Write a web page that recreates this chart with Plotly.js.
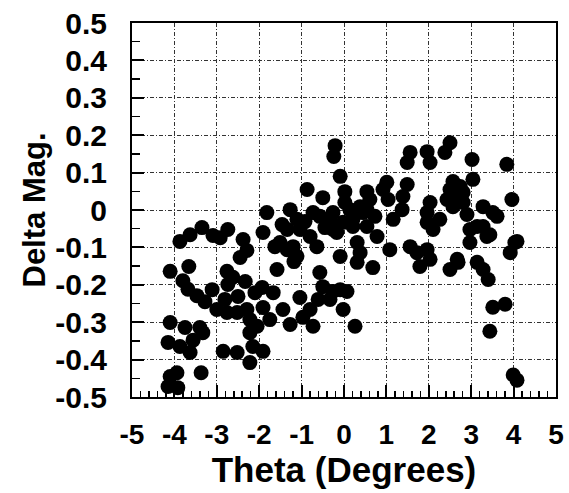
<!DOCTYPE html>
<html>
<head>
<meta charset="utf-8">
<script src="https://cdn.plot.ly/plotly-3.0.1.min.js"></script>
<style>html,body{margin:0;padding:0;background:#fff;}#chart{width:569px;height:493px;}</style>
</head>
<body>
<div id="chart"></div>
<script>
// Theta (degrees)
const theta = [
-3.87,-3.63,-3.35,-3.09,-2.92,-2.74,-2.38,-2.29,-2.45,-1.63,
-4.10,-3.66,-3.80,-3.68,-3.47,-3.28,-3.11,-2.81,-3.00,-2.76,-2.52,-2.29,-2.22,-2.05,-2.22,-1.75,-2.76,-2.62,-2.33,-2.10,-1.93,-1.67,-1.58,-1.44,-1.27,-1.04,-0.80,-0.73,-0.57,-0.50,-0.33,-0.09,-0.02,0.07,0.26,
-4.10,-3.75,-3.40,-3.33,-4.15,-3.87,-3.63,-2.85,-2.52,-2.15,-1.91,-2.22,-4.10,-3.94,-4.15,-3.92,-3.37,
-1.82,-1.27,-1.11,-1.46,-1.34,-1.11,-0.80,-0.64,-0.73,-0.33,-0.09,-0.17,-0.21,-0.24,-0.09,0.02,0.02,-0.87,-0.50,-1.34,-1.04,-0.57,-0.26,-0.26,-0.02,0.21,0.45,0.54,-1.51,-1.20,0.31,0.38,0.31,0.68,0.21,
0.54,0.61,0.54,0.38,1.01,1.04,1.49,1.56,1.49,1.96,2.03,2.50,2.38,3.02,3.84,3.04,2.57,2.74,2.50,2.43,2.67,2.57,2.03,1.96,1.96,3.96,3.28,3.61,1.37,1.16,2.10,2.97,3.28,3.44,2.97,4.03,3.92,0.78,1.08,1.56,1.72,1.96,2.03,2.67,3.14,0.92,1.39,2.81,1.79,2.50,2.69,3.28,3.40,3.14,3.37,3.51,4.08,
3.51,3.80,3.44,3.99,4.08,-0.26,
0.14,-0.45,-0.92,2.81,2.90,2.26,0.73,-1.91,-1.18,-2.74,-2.50,-1.91,-0.97,-0.61,-3.56
];
// Delta magnitude
const deltaMag = [
-0.084,-0.066,-0.047,-0.068,-0.074,-0.052,-0.079,-0.108,-0.127,-0.098,
-0.164,-0.151,-0.189,-0.212,-0.229,-0.245,-0.213,-0.239,-0.266,-0.274,-0.274,-0.266,-0.293,-0.311,-0.328,-0.293,-0.164,-0.180,-0.191,-0.221,-0.207,-0.221,-0.159,-0.266,-0.306,-0.234,-0.266,-0.311,-0.167,-0.205,-0.239,-0.213,-0.266,-0.218,-0.311,
-0.301,-0.314,-0.314,-0.328,-0.354,-0.365,-0.381,-0.378,-0.381,-0.365,-0.378,-0.408,-0.445,-0.435,-0.472,-0.475,-0.435,
-0.007,0.001,-0.025,-0.039,-0.106,-0.124,-0.071,-0.098,-0.007,-0.025,-0.124,-0.060,0.172,0.143,0.090,0.049,0.020,0.055,0.033,-0.052,-0.052,-0.017,-0.007,-0.052,-0.033,-0.025,-0.007,-0.044,-0.087,-0.098,-0.087,-0.114,-0.140,-0.154,-0.044,
0.049,0.028,0.001,0.009,0.074,0.028,0.068,0.154,0.127,0.156,0.127,0.180,0.154,0.135,0.122,0.082,0.076,0.063,0.055,0.028,0.036,0.009,0.020,-0.007,-0.033,0.028,0.009,-0.017,0.001,-0.025,-0.052,-0.052,-0.044,-0.066,-0.087,-0.087,-0.114,-0.071,-0.106,-0.098,-0.114,-0.106,-0.132,-0.132,-0.140,0.055,0.036,0.047,-0.151,-0.159,-0.140,-0.159,-0.186,-0.044,-0.071,-0.007,-0.084,
-0.260,-0.252,-0.324,-0.441,-0.455,-0.218,
0.001,-0.047,-0.031,0.020,-0.012,-0.025,-0.017,-0.060,-0.138,-0.199,-0.231,-0.261,-0.287,-0.239,-0.348
];
const xTickVals = [-5,-4,-3,-2,-1,0,1,2,3,4,5];
const xTickText = ["-5","-4","-3","-2","-1","0","1","2","3","4","5"];
const yTickVals = [-0.5,-0.4,-0.3,-0.2,-0.1,0,0.1,0.2,0.3,0.4,0.5];
const yTickText = ["-0.5","-0.4","-0.3","-0.2","-0.1","0","0.1","0.2","0.3","0.4","0.5"];

const font = "Liberation Sans, Arial, sans-serif";
const trace = {
  x: theta, y: deltaMag, type: 'scatter', mode: 'markers',
  marker: {color: '#000', size: 15, line: {width: 0}},
  cliponaxis: true, hoverinfo: 'skip'
};
const layout = {
  width: 569, height: 493,
  margin: {l: 132, r: 13, t: 23, b: 96},
  paper_bgcolor: '#fff', plot_bgcolor: '#fff',
  showlegend: false,
  font: {family: font, color: '#000'},
  xaxis: {
    range: [-5, 5], tickmode: 'array', tickvals: xTickVals, ticktext: xTickText,
    ticks: 'inside', ticklen: 12, tickwidth: 2, tickcolor: '#000',
    ticklabelstandoff: 11,
    tickfont: {family: font, size: 28, weight: 'bold'},
    showline: true, linecolor: '#000', linewidth: 2, mirror: true,
    showgrid: true, gridcolor: '#333', gridwidth: 1, griddash: '4px,2px,1px,2px',
    zeroline: false,
    minor: {tickmode: 'linear', tick0: 0, dtick: 0.2, ticks: 'inside', ticklen: 6, tickwidth: 1.5, tickcolor: '#000', showgrid: false},
    title: {text: 'Theta (Degrees)', font: {family: font, size: 35, weight: 'bold'}, standoff: 0}
  },
  yaxis: {
    range: [-0.5, 0.5], tickmode: 'array', tickvals: yTickVals, ticktext: yTickText,
    ticks: 'inside', ticklen: 12, tickwidth: 2, tickcolor: '#000',
    ticklabelstandoff: 17,
    tickfont: {family: font, size: 30, weight: 'bold'},
    showline: true, linecolor: '#000', linewidth: 2, mirror: true,
    showgrid: true, gridcolor: '#333', gridwidth: 1, griddash: '4px,2px,1px,2px',
    zeroline: false,
    minor: {tickmode: 'linear', tick0: 0, dtick: 0.05, ticks: 'inside', ticklen: 8, tickwidth: 1.5, tickcolor: '#000', showgrid: false},
    title: {text: 'Delta Mag.', font: {family: font, size: 31, weight: 'bold'}, standoff: 0}
  }
};
Plotly.newPlot('chart', [trace], layout, {staticPlot: true, displayModeBar: false});
</script>
</body>
</html>
